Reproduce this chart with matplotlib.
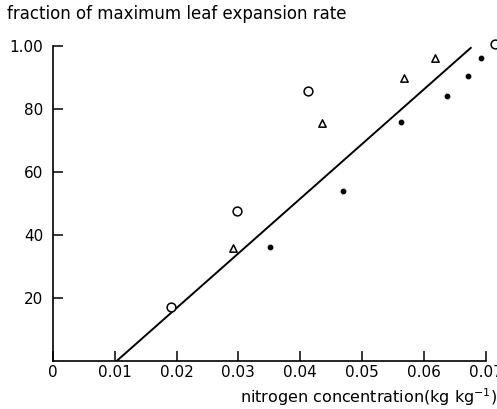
import matplotlib.pyplot as plt
import numpy as np

# open circles
circ_x = [0.0191, 0.0298, 0.0413, 0.0715]
circ_y = [17.1, 47.6, 85.7, 100.6]
# open triangles
tri_x = [0.0291, 0.0435, 0.0568, 0.0618]
tri_y = [35.9, 75.5, 89.8, 96.2]
# filled dots
dot_x = [0.0351, 0.0469, 0.0563, 0.0637, 0.0671, 0.0692]
dot_y = [36.2, 54.0, 75.9, 84.1, 90.5, 96.2]
# fitted line end points
line_x = [0.0103, 0.0676]
line_y = [0.0, 99.4]

xticks = [0, 0.01, 0.02, 0.03, 0.04, 0.05, 0.06, 0.07]
xticklabels = ['0', '0.01', '0.02', '0.03', '0.04', '0.05', '0.06', '0.07']
yticks = [20, 40, 60, 80, 100]
yticklabels = ['20', '40', '60', '80', '1.00']

fig = plt.figure(figsize=(4.97, 4.09), dpi=100)
ax = fig.add_axes([53/497, 48/409, 444/497, 315/409])

ax.plot(line_x, line_y, color='black', lw=1.4, zorder=2)
ax.scatter(dot_x, dot_y, s=10, color='black', zorder=3, clip_on=False)
ax.scatter(tri_x, tri_y, s=28, marker='^', facecolor='white', edgecolor='black',
           lw=1.1, zorder=3, clip_on=False)
ax.scatter(circ_x, circ_y, s=40, marker='o', facecolor='white', edgecolor='black',
           lw=1.1, zorder=4, clip_on=False)

ax.set_xlim(0, 444/6180)
ax.set_ylim(0, 100)
for s in ['top', 'right']:
    ax.spines[s].set_visible(False)
ax.spines['bottom'].set_bounds(0, 0.07)
ax.spines['left'].set_bounds(0, 100)
ax.spines['bottom'].set_linewidth(1.2)
ax.spines['left'].set_linewidth(1.2)

ax.set_xticks(xticks)
ax.set_xticklabels(xticklabels)
ax.set_yticks(yticks)
ax.set_yticklabels(yticklabels)
ax.tick_params(direction='in', length=7, width=1.1, labelsize=11)
ax.tick_params(axis='x', pad=3)
ax.tick_params(axis='y', pad=7)

fig.text(7/497, 1 - 14/409, 'fraction of maximum leaf expansion rate',
         fontsize=12, va='center', ha='left')
fig.text(497/497, 1 - 397/409, 'nitrogen concentration(kg kg$^{-1}$)',
         fontsize=11.5, va='center', ha='right')

plt.savefig('out.png', dpi=100)
